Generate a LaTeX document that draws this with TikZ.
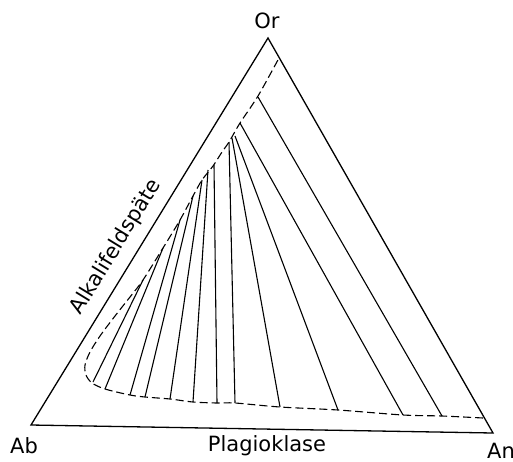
\documentclass[tikz,border=0pt]{standalone}
\usepackage{fontspec}
\setmainfont{DejaVu Sans}
\usetikzlibrary{positioning}

\begin{document}
\begin{tikzpicture}[
  x=1pt, y=-1pt,
  edge/.style={line width=1.3pt, line join=miter},
  tie/.style={line width=1.1pt},
  gap/.style={line width=1.1pt, dash pattern=on 8pt off 4pt},
  lbl/.style={font=\fontsize{21}{24}\selectfont, inner sep=0pt}
]
\useasboundingbox (0,0) rectangle (513,461);

% corners of the ternary plot
\coordinate (Ab) at (31,425);
\coordinate (Or) at (268,38);
\coordinate (An) at (493,433);

\draw[edge] (Ab) -- (Or) -- (An) -- cycle;

\node[lbl] (or) at (267,21) {Or};
\node[lbl] (ab) at (24,446) {Ab};
\node[lbl] (an) at (501,451) {An};
\node[lbl] (plag) at (267,446) {Plagioklase};
\node[lbl, rotate=58.5] (alk) at (116,247) {Alkalifeldspäte};

% miscibility gap
\draw[gap] plot[smooth, tension=0.5] coordinates {
  (483,418) (442,416) (403,415) (338,410) (280,407) (235,403) (217,403)
  (193,402) (170,399) (145,397) (130,395) (105,389) (92,383) (86,375)
  (85,365) (90,352) (100,336) (115,316) (130,297) (143,280) (163,248)
  (180,220) (193,196) (202,180) (213,166) (222,152) (229,142) (240,123)
  (258,96) (279,58)};

% tie lines
\foreach \xa/\ya/\xb/\yb [count=\i] in {
  258/97/442/416, 240/123/403/415, 235/136/338/410, 232/138/280/407,
  229/142/235/403, 214/165/217/403, 208/170/193/402, 202/180/170/399,
  193/196/145/397, 180/220/130/395, 163/248/105/389, 143/280/93/382} {
  \coordinate (t\i) at (\xa,\ya);
  \coordinate (b\i) at (\xb,\yb);
  \draw[tie] (t\i) -- (b\i);
}

\end{tikzpicture}
\end{document}
